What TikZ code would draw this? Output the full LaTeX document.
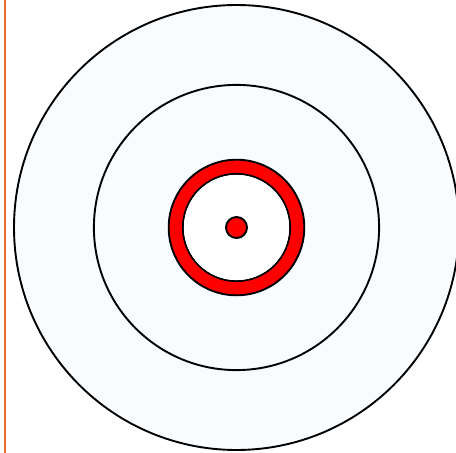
\documentclass[tikz,border=0pt]{standalone}
\begin{document}
\begin{tikzpicture}[x=1pt,y=-1pt,
  ringline/.style={draw=black,line width=1.9pt},
  pale/.style={fill={rgb,255:red,248;green,252;blue,255}}]
\definecolor{edgeorange}{RGB}{232,110,50}
\useasboundingbox (0,0) rectangle (456,453);
\fill[white] (0,0) rectangle (456,453);
\coordinate (c) at (236.5,227.5);
\begin{scope}
\clip (0,0) rectangle (456,453);
\draw[ringline,pale] (c) circle[radius=222.5];
\draw[ringline,pale] (c) circle[radius=142.6];
\draw[ringline,fill=red,even odd rule] (c) circle[radius=67.8] (c) circle[radius=53.6];
\fill[white] (c) circle[radius=52.6];
\draw[ringline,fill=red] (c) circle[radius=10.5];
\end{scope}
\draw[edgeorange,line width=2pt] (5,0) -- (5,453);
\end{tikzpicture}
\end{document}
